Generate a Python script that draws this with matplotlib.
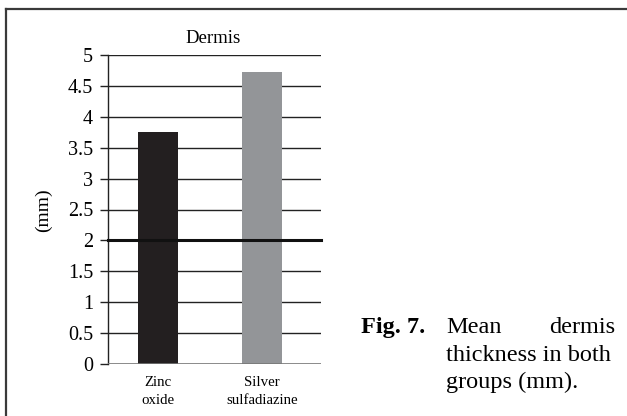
import matplotlib
matplotlib.use("Agg")
import matplotlib.pyplot as plt
from matplotlib.lines import Line2D

categories = ["Zinc\noxide", "Silver\nsulfadiazine"]
values = [3.76, 4.73]
bar_colors = ["#231f20", "#939598"]
yticks = [0, 0.5, 1, 1.5, 2, 2.5, 3, 3.5, 4, 4.5, 5]
ytick_labels = ["0", "0.5", "1", "1.5", "2", "2.5", "3", "3.5", "4", "4.5", "5"]
reference_level = 2
title = "Dermis"
ylabel = "(mm)"

W, H = 627, 416
fig = plt.figure(figsize=(W / 100, H / 100), dpi=100)
plt.rcParams['font.family'] = ['Liberation Serif', 'DejaVu Serif']

def fx(px):
    return px / W

def fy(py):
    return 1 - py / H

# outer frame (top and left lines)
fig.add_artist(Line2D([fx(6), 1.0], [fy(9), fy(9)], color="#3a3a3a", lw=1.6, transform=fig.transFigure))
fig.add_artist(Line2D([fx(6), fx(6)], [fy(9), 0.0], color="#3a3a3a", lw=1.6, transform=fig.transFigure))

ax = fig.add_axes([fx(108), fy(364), fx(321) - fx(108), fy(55) - fy(364)])
x = list(range(len(categories)))
ax.bar(x, values, width=0.385, color=bar_colors, zorder=3)
ax.set_xlim(-0.48, 1.57)
ax.set_ylim(0, 5)
ax.set_yticks(yticks)
ax.set_yticklabels(ytick_labels, fontsize=14.5)
ax.set_xticks(x)
ax.set_xticklabels(categories, fontsize=10.7, linespacing=1.4)
ax.tick_params(axis='x', length=0, pad=9)
ax.tick_params(axis='y', length=5.8, width=1, direction='out', pad=5, color='#222222')

for t in yticks:
    if t == reference_level:
        ax.axhline(t, color='#111111', lw=2.2, zorder=4, clip_on=False)
    elif t > 0:
        ax.axhline(t, color='#222222', lw=1.0, zorder=1)
ax.axhline(0, color='#777777', lw=1.2, zorder=4)

for s in ['top', 'right', 'bottom']:
    ax.spines[s].set_visible(False)
ax.spines['left'].set_color('#222222')
ax.spines['left'].set_linewidth(1.0)
ax.set_facecolor('none')

fig.text(fx(213), fy(43), title, ha='center', va='baseline', fontsize=13.5)
fig.text(fx(43), fy(210), ylabel, ha='center', va='center', rotation=90, fontsize=14)

# caption
cap_fs = 17.5
fig.text(fx(361), fy(333), "Fig. 7.", ha='left', va='baseline', fontsize=cap_fs, fontweight='bold')
fig.text(fx(446), fy(333), "Mean", ha='left', va='baseline', fontsize=cap_fs)
fig.text(fx(615), fy(333), "dermis", ha='right', va='baseline', fontsize=cap_fs)
fig.text(fx(446), fy(361), "thickness in both", ha='left', va='baseline', fontsize=cap_fs)
fig.text(fx(446), fy(388), "groups (mm).", ha='left', va='baseline', fontsize=cap_fs)

fig.savefig("out.png", dpi=100)
